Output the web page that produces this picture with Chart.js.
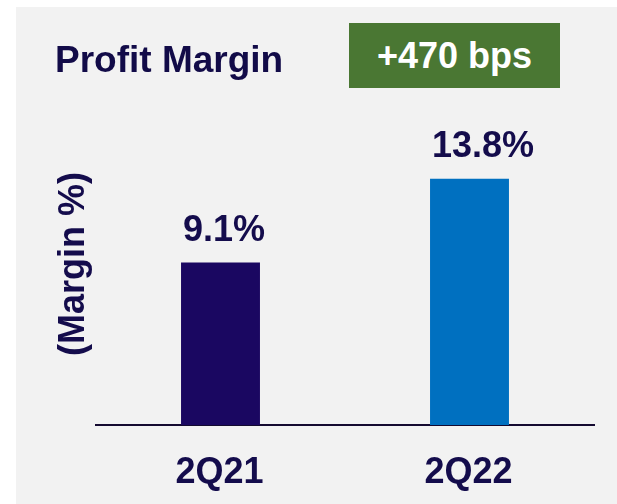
<!DOCTYPE html>
<html lang="en">
<head>
  <meta charset="UTF-8" />
  <title>Profit Margin</title>
  <script src="https://cdn.jsdelivr.net/npm/chart.js"></script>
  <style>
    body {
      margin: 0;
      background: #ffffff;
      font-family: "Liberation Sans", Arial, sans-serif;
    }
    #wrap {
      position: relative;
      width: 617px;
      height: 504px;
      overflow: hidden;
    }
    #panel {
      position: absolute;
      left: 16px;
      top: 7px;
      right: 0;
      bottom: 0;
      background: #f2f2f2;
    }
    #title {
      position: absolute;
      left: 55px;
      top: 41px;
      font-size: 37px;
      font-weight: bold;
      line-height: 1;
      color: #120b48;
      white-space: nowrap;
    }
    #badge {
      position: absolute;
      left: 349px;
      top: 23px;
      width: 211px;
      height: 65px;
      background: #4a7733;
      color: #ffffff;
      font-size: 36px;
      font-weight: bold;
      line-height: 1;
      display: flex;
      align-items: center;
      justify-content: center;
      white-space: nowrap;
    }
    #chart {
      position: absolute;
      left: 0;
      top: 0;
    }
  </style>
</head>
<body>
  <div id="wrap">
    <div id="panel"></div>
    <canvas id="chart" width="617" height="504"></canvas>
    <div id="title">Profit Margin</div>
    <div id="badge">+470 bps</div>
  </div>

  <script>
    const quarters = ["2Q21", "2Q22"];
    const margins = [9.1, 13.8];
    const barColors = ["#1a0761", "#0070c0"];
    const yTitle = "(Margin %)";

    const textColor = "#140c4c";
    const font = "bold 36px 'Liberation Sans', Arial, sans-serif";

    // value labels, category labels under the axis, rotated y title
    const labelPlugin = {
      id: "labels",
      afterDatasetsDraw(chart) {
        const ctx = chart.ctx;
        const meta = chart.getDatasetMeta(0);
        const xScale = chart.scales.x;
        ctx.save();
        ctx.font = font;
        ctx.fillStyle = textColor;
        ctx.textBaseline = "alphabetic";

        ctx.textAlign = "left";
        meta.data.forEach(function (bar, i) {
          const left = bar.x - bar.width / 2;
          ctx.fillText(margins[i].toFixed(1) + "%", left + 2, bar.y - 22);
        });

        ctx.textAlign = "center";
        quarters.forEach(function (q, i) {
          ctx.fillText(q, xScale.getPixelForValue(i) - 1, chart.chartArea.bottom + 58);
        });

        ctx.translate(84, 264);
        ctx.rotate(-Math.PI / 2);
        ctx.fillText(yTitle, 0, 0);
        ctx.restore();
      }
    };

    const ctx = document.getElementById("chart").getContext("2d");
    new Chart(ctx, {
      type: "bar",
      data: {
        labels: quarters,
        datasets: [{
          data: margins,
          backgroundColor: barColors,
          barPercentage: 0.317,
          categoryPercentage: 1
        }]
      },
      options: {
        responsive: false,
        animation: false,
        layout: {
          padding: { left: 96, right: 23, top: 68, bottom: 79 }
        },
        plugins: {
          legend: { display: false },
          tooltip: { enabled: false }
        },
        scales: {
          x: {
            grid: { display: false, drawTicks: false, tickLength: 0 },
            border: { display: true, color: "#140a30", width: 2 },
            ticks: { display: false, padding: 0 }
          },
          y: {
            display: false,
            min: 0,
            max: 20
          }
        }
      },
      plugins: [labelPlugin]
    });
  </script>
</body>
</html>
